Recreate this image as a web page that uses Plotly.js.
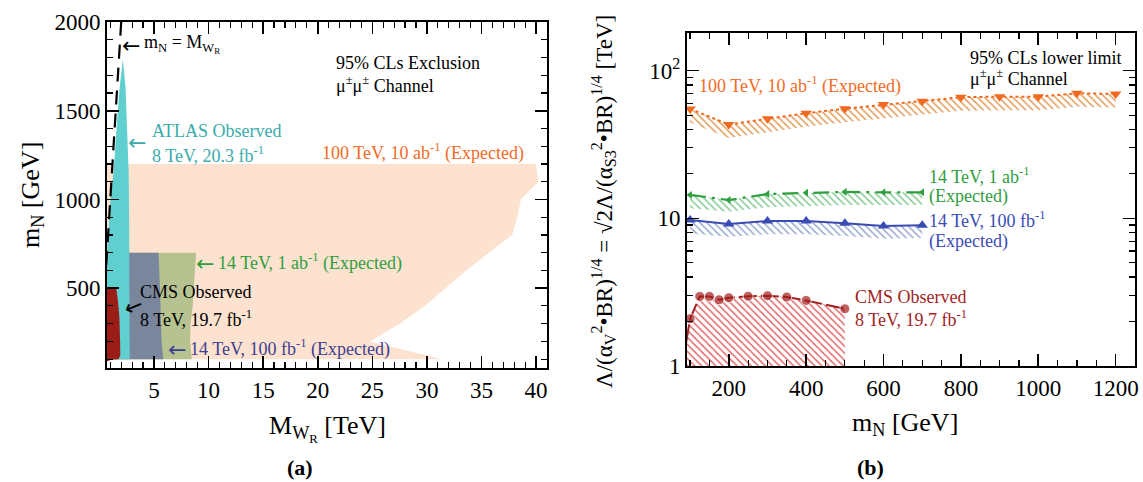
<!DOCTYPE html>
<html><head><meta charset="utf-8">
<script src="https://cdn.plot.ly/plotly-3.0.1.min.js"></script>
<style>html,body{margin:0;padding:0;background:#fff}#chart{width:1143px;height:482px}</style>
</head><body><div id="chart"></div>
<script>
// ---------- Panel (a) data ----------
const mN100 = [100,200,300,400,500,600,700,800,900,1000,1100,1200];
const reach100TeV = [31.4,24.8,27.5,29.8,31.7,33.6,35.7,37.8,38.3,38.6,40.2,40.0];
const mN14 = [100,200,300,400,500,600,700];
const reach14TeV1ab = [8.46,8.31,8.35,8.55,8.65,8.75,8.86];
const reach14TeV100fb = [5.85,5.70,5.62,5.60,5.55,5.50,5.42];
const atlasX = [2.78,2.77,2.72,2.68,2.53,2.40,2.15,1.86,1.62,1.31,1.00,0.82,0.70,0.50,0.50];
const atlasY = [100,700,940,1160,1440,1630,1790,1630,1440,1160,990,810,700,700,100];
const cmsX = [0.5,1.55,1.70,1.83,1.90,1.92,1.75,1.10,0.80,0.5];
const cmsY = [500,500,430,340,200,120,100,98,90,85];
const diagMWR = [0.5,2.1];
const diagMN = [500,2100];
// ---------- Panel (b) data ----------
const massExp = [100,200,300,400,500,600,700,800,900,1000,1100,1200];
const exp100TeV = [55.1,43.2,47.2,51.5,55.3,58.9,62.1,66.1,66.7,66.7,70.3,69.6];
const exp100TeVLow = [44.5,35.0,38.2,41.7,44.8,47.7,50.3,53.5,54.0,54.0,56.9,56.4];
const mass14 = [100,200,300,400,500,600,700];
const exp14TeV1ab = [14.4,13.3,14.6,14.9,15.1,15.0,15.0];
const exp14TeV1abLow = [11.7,11.1,11.9,12.1,12.3,12.3,12.3];
const exp14TeV100fb = [9.74,9.15,9.59,9.59,9.25,8.87,8.97];
const exp14TeV100fbLow = [7.9,7.5,7.8,7.8,7.6,7.3,7.35];
const cmsMass = [90,100,125,150,175,200,250,300,350,400,500];
const cmsObs = [1.45,2.09,2.96,2.96,2.81,2.90,2.97,2.99,2.93,2.78,2.44];
const cmsFloor = [1,1,1,1,1,1,1,1,1,1,1];

const W = 1143, H = 482;
const px = x => x / W, py = y => 1 - y / H;
const SERIF = 'Liberation Serif, Times New Roman, serif';
const ARROWFONT = 'DejaVu Sans, sans-serif';

const C = {
  peach:'#FDE3CF', teal:'#5FCFCF', red:'#9A1D18', slate:'#7A869B', olive:'#B6C290',
  orange:'#F26A1F', green:'#2E9E3E', blue:'#3A4CB4', dred:'#A21F1F',
  tealTxt:'#3AABAB', navyTxt:'#3E3E92'
};

// polygon builders (left edge beyond the axis minimum)
const XMIN_A = 0.5;
function regionLeft(ms, reach) {
  const xs = [XMIN_A].concat(reach).concat([XMIN_A]);
  const ys = [ms[0]].concat(ms).concat([ms[ms.length-1]]);
  return {xs, ys};
}
const orangePoly = regionLeft(mN100, reach100TeV);
const olivePoly = regionLeft(mN14, reach14TeV1ab);
const slatePoly = regionLeft(mN14, reach14TeV100fb);

const traces = [];
function poly(p, color){
  traces.push({x:p.xs, y:p.ys, xaxis:'x', yaxis:'y', mode:'lines', fill:'toself',
    fillcolor:color, line:{width:0, color:color}, hoverinfo:'skip', showlegend:false});
}
poly(orangePoly, C.peach);
poly(olivePoly, C.olive);
poly(slatePoly, C.slate);
poly({xs:atlasX, ys:atlasY}, C.teal);
poly({xs:cmsX, ys:cmsY}, C.red);
traces.push({x:diagMWR, y:diagMN, xaxis:'x', yaxis:'y', mode:'lines',
  line:{color:'#000', width:2.2, dash:'14px,9px'}, hoverinfo:'skip', showlegend:false});

// panel b: hatched bands
function band(xs, lo, hi, color, hatch){
  traces.push({x:xs, y:lo, xaxis:'x2', yaxis:'y2', mode:'lines', line:{width:0, color:color},
    hoverinfo:'skip', showlegend:false});
  traces.push({x:xs, y:hi, xaxis:'x2', yaxis:'y2', mode:'lines', line:{width:0, color:color},
    fill:'tonexty', fillcolor:'rgba(0,0,0,0)',
    fillpattern:{shape:'\\', fgcolor:hatch, bgcolor:'rgba(0,0,0,0)', size:5, solidity:0.3},
    hoverinfo:'skip', showlegend:false});
}
band(massExp, exp100TeVLow, exp100TeV, C.orange, 'rgba(222,145,75,0.9)');
band(mass14, exp14TeV1abLow, exp14TeV1ab, C.green, 'rgba(90,185,110,0.75)');
band(mass14, exp14TeV100fbLow, exp14TeV100fb, C.blue, 'rgba(120,140,190,0.75)');
band(cmsMass, cmsFloor, cmsObs, C.dred, 'rgba(215,70,70,0.8)');

traces.push({x:massExp, y:exp100TeV, xaxis:'x2', yaxis:'y2', mode:'lines+markers',
  line:{color:C.orange, width:2, dash:'dot'}, marker:{symbol:'triangle-down', size:10, color:C.orange},
  hoverinfo:'skip', showlegend:false});
traces.push({x:mass14, y:exp14TeV1ab, xaxis:'x2', yaxis:'y2', mode:'lines+markers',
  line:{color:C.green, width:2.2, dash:'16px,6px,3px,6px'}, marker:{symbol:'triangle-left', size:7, color:C.green},
  hoverinfo:'skip', showlegend:false});
traces.push({x:mass14, y:exp14TeV100fb, xaxis:'x2', yaxis:'y2', mode:'lines+markers',
  line:{color:C.blue, width:2}, marker:{symbol:'triangle-up', size:10, color:C.blue},
  hoverinfo:'skip', showlegend:false});
traces.push({x:cmsMass, y:cmsObs, xaxis:'x2', yaxis:'y2', mode:'lines+markers',
  line:{color:C.dred, width:2, dash:'18px,4px'},
  marker:{symbol:'circle', size:cmsMass.map(m => m < 95 ? 0 : 10), color:C.dred},
  hoverinfo:'skip', showlegend:false});

const axBase = {
  showgrid:false, zeroline:false, showline:true, linecolor:'#000', linewidth:2, mirror:'ticks',
  ticks:'inside', ticklen:12, tickwidth:1.6, tickcolor:'#000',
  tickfont:{family:SERIF, size:23, color:'#000'}
};
const minorBase = {ticks:'inside', ticklen:6, tickwidth:1.2, tickcolor:'#000', showgrid:false};

const minorLog = [2,3,4,5,6,7,8,9,20,30,40,50,60,70,80,90,200];

const layout = {
  width:W, height:H, margin:{l:0,r:0,t:0,b:0}, paper_bgcolor:'#fff', plot_bgcolor:'#fff',
  showlegend:false, font:{family:SERIF, color:'#000'},
  xaxis:Object.assign({}, axBase, {domain:[px(107), px(547)], range:[0.7,41], tick0:0, dtick:5,
    minor:Object.assign({}, minorBase, {dtick:1}), anchor:'y'}),
  yaxis:Object.assign({}, axBase, {domain:[py(368), py(22)], range:[50,2000], tick0:0, dtick:500,
    minor:Object.assign({}, minorBase, {dtick:100}), anchor:'x'}),
  xaxis2:Object.assign({}, axBase, {domain:[px(687), px(1135)], range:[92,1250], tick0:0, dtick:200,
    minor:Object.assign({}, minorBase, {dtick:50}), anchor:'y2'}),
  yaxis2:Object.assign({}, axBase, {domain:[py(366), py(33)], type:'log', range:[0,2.255],
    tickvals:[1,10,100], ticktext:['1','10','10<sup>2</sup>'],
    minor:Object.assign({}, minorBase, {tickmode:'array', tickvals:minorLog}), anchor:'x2'}),
  annotations:[]
};

function txt(x, y, text, color, size, opts){
  layout.annotations.push(Object.assign({xref:'paper', yref:'paper', x:px(x), y:py(y), text:text,
    showarrow:false, xanchor:'left', yanchor:'middle', font:{family:SERIF, size:size||18, color:color||'#000'}}, opts||{}));
}
function arrow(x, y, color, angle){
  layout.annotations.push({xref:'paper', yref:'paper', x:px(x), y:py(y), text:'←',
    showarrow:false, xanchor:'left', yanchor:'middle', textangle:angle||0,
    font:{family:ARROWFONT, size:22, color:color}});
}
const FS = 18;
// Panel (a) labels
arrow(120, 45, '#000');
txt(142, 44, 'm<sub>N</sub> = M<sub>W<sub>R</sub></sub>', '#000', FS);
txt(334, 63, '95% CLs Exclusion', '#000', FS);
txt(334, 84, 'μ<sup>±</sup>μ<sup>±</sup> Channel', '#000', FS);
arrow(126, 142, C.tealTxt);
txt(150, 131, 'ATLAS Observed', C.tealTxt, FS);
txt(150, 154, '8 TeV, 20.3 fb<sup>-1</sup>', C.tealTxt, FS);
txt(320, 152, '100 TeV, 10 ab<sup>-1</sup> (Expected)', C.orange, FS);
arrow(194, 263, C.green);
txt(216, 262, '14 TeV, 1 ab<sup>-1</sup> (Expected)', C.green, FS);
txt(138, 292, 'CMS Observed', '#000', FS);
txt(138, 318, '8 TeV, 19.7 fb<sup>-1</sup>', '#000', FS);
arrow(117, 306, '#000', -22);
arrow(166, 349, C.navyTxt);
txt(188, 348, '14 TeV, 100 fb<sup>-1</sup> (Expected)', C.navyTxt, FS);
// Panel (b) labels
txt(968, 58, '95% CLs lower limit', '#000', FS);
txt(968, 78, 'μ<sup>±</sup>μ<sup>±</sup> Channel', '#000', FS);
txt(697, 85, '100 TeV, 10 ab<sup>-1</sup> (Expected)', C.orange, FS);
txt(927, 175, '14 TeV, 1 ab<sup>-1</sup>', C.green, FS);
txt(927, 196, '(Expected)', C.green, FS);
txt(927, 220, '14 TeV, 100 fb<sup>-1</sup>', C.blue, FS);
txt(927, 241, '(Expected)', C.blue, FS);
txt(853, 297, 'CMS Observed', C.dred, FS);
txt(853, 318, '8 TeV, 19.7 fb<sup>-1</sup>', C.dred, FS);
// axis titles
txt(327, 428, 'M<sub>W<sub>R</sub></sub> [TeV]', '#000', 26, {xanchor:'center'});
txt(32, 195, 'm<sub>N</sub> [GeV]', '#000', 26, {xanchor:'center', textangle:-90});
txt(905, 424, 'm<sub>N</sub> [GeV]', '#000', 26, {xanchor:'center'});
txt(603, 202, 'Λ/(α<sub>V</sub><sup>2</sup>•BR)<sup>1/4</sup> = √2Λ/(α<sub>S3</sub><sup>2</sup>•BR)<sup>1/4</sup> [TeV]', '#000', 23, {xanchor:'center', textangle:-90});
txt(300, 467, '<b>(a)</b>', '#000', 22, {xanchor:'center'});
txt(870, 467, '<b>(b)</b>', '#000', 22, {xanchor:'center'});

Plotly.newPlot('chart', traces, layout, {staticPlot:true, displayModeBar:false});
</script></body></html>
